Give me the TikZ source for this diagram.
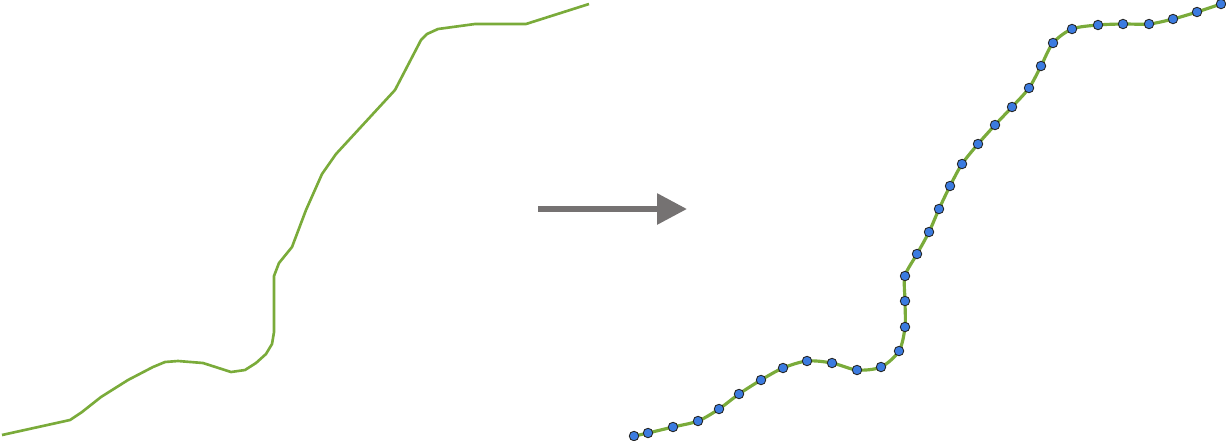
\documentclass[tikz,border=0pt]{standalone}
\usepackage{tikz}
\usetikzlibrary{arrows.meta}
\definecolor{Route}{HTML}{7AAB3A}
\definecolor{Dot}{HTML}{3B7BE0}
\definecolor{Arrow}{HTML}{757272}

\begin{document}
\begin{tikzpicture}[x=0.02cm,y=-0.02cm,
    route/.style={draw=Route,line width=1.5pt,line join=round},
    dotted route/.style={route,line width=1.8pt,mark=*,mark size=2.7pt,
      mark options={fill=Dot,draw=black!85,line width=0.5pt}},
    bigarrow/.style={draw=Arrow,line width=3.4pt,
      -{Triangle[length=17pt,width=17pt]}}]
    \useasboundingbox (0,0) rectangle (1226,440);
    % original line
    \draw[route] (2,435) -- (70,420) -- (82,412) -- (101,397) -- (128,380)
      -- (153,367) -- (165,362) -- (178,361) -- (203,363) -- (231,372)
      -- (245,370) -- (256,363) -- (266,354) -- (272,344) -- (274,332)
      -- (274,276) -- (279,263) -- (292,247) -- (306,210) -- (322,174)
      -- (336,154) -- (395,90) -- (421,40) -- (427,34) -- (438,29)
      -- (475,24) -- (526,24) -- (589,4);
    % arrow
    \coordinate (from) at (538,209);
    \coordinate (to) at (687,209);
    \draw[bigarrow] (from) -- (to);
    % smoothed, resampled line
    \draw[dotted route] plot[smooth] coordinates {
      (634,436) (648,433) (673,427) (698,421) (719,409) (739,394)
      (761,380) (783,368) (807,361) (832,363) (857,370) (881,367)
      (899,351) (905,327) (905,301) (905,276) (917,254) (929,232)
      (939,209) (950,186) (962,164) (978,144) (995,125) (1012,107)
      (1029,88) (1041,66) (1053,43) (1072,29) (1098,25) (1123,24)
      (1149,24) (1173,19) (1197,12) (1221,4)};
  \end{tikzpicture}
\end{document}
